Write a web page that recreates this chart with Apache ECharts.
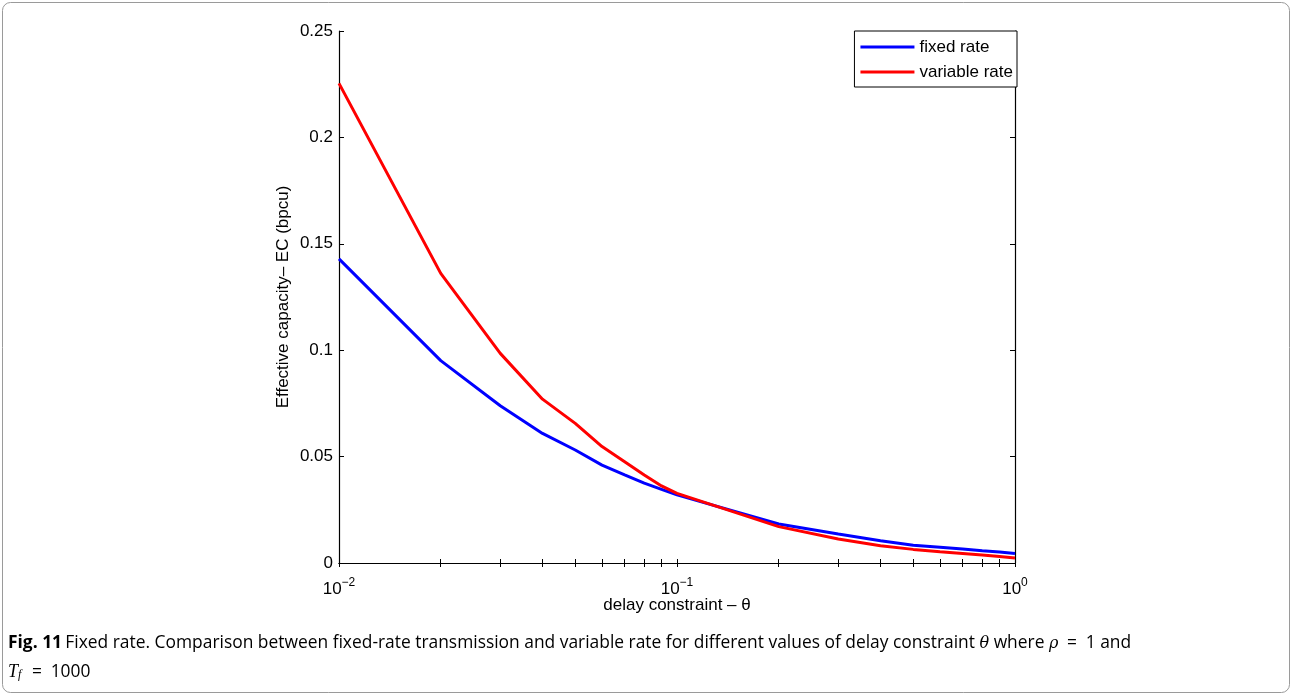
<!DOCTYPE html>
<html><head><meta charset="utf-8">
<script src="https://cdn.jsdelivr.net/npm/echarts@6/dist/echarts.min.js"></script>
<style>html,body{margin:0;padding:0;background:#fff}#c{width:1292px;height:695px}</style>
</head><body><div id="c"></div>
<script>
var theta = [0.01,0.02,0.03,0.04,0.05,0.06,0.07,0.08,0.09,0.1,0.2,0.3,0.4,0.5,0.6,0.7,0.8,0.9,1.0];
var fixedRate = [0.1429,0.0951,0.0739,0.0609,0.0531,0.0460,0.0414,0.0375,0.0346,0.0320,0.0183,0.0136,0.0105,0.0083,0.0074,0.0066,0.0058,0.0052,0.0045];
var variableRate = [0.2254,0.1361,0.0985,0.0770,0.0656,0.0547,0.0476,0.0414,0.0362,0.0327,0.0171,0.0113,0.0081,0.0064,0.0053,0.0045,0.0038,0.0031,0.0024];
var xMajorTicks = [0.01,0.1,1];
var xTickValues = [0.01,0.02,0.03,0.04,0.05,0.06,0.07,0.08,0.09,0.1,0.2,0.3,0.4,0.5,0.6,0.7,0.8,0.9,1];
var xTickExponents = {"0.01":"\u22122","0.1":"\u22121","1":"0"};
var seriesNames = ["fixed rate","variable rate"];

var chart = echarts.init(document.getElementById('c'), null, {renderer:'canvas'});
var AX = 'Liberation Sans, Arial, sans-serif';
var CF = 'Open Sans';
var CS = 17.4;
function pairs(ys){ return theta.map(function(x,i){return [x, ys[i]];}); }
var L = 339, R = 1015, T = 31, B = 563;
var option = {
  animation:false,
  backgroundColor:'#fff',
  grid:{left:L, right:1292-R, top:T, bottom:695-B},
  legend:{
    orient:'vertical', right:1292-1017, top:31,
    data:seriesNames,
    icon:'rect', itemWidth:54, itemHeight:3, itemGap:5,
    borderColor:'#000', borderWidth:1, backgroundColor:'#fff',
    padding:[6,4,5,6],
    textStyle:{fontFamily:AX, fontSize:17, color:'#000', lineHeight:20}
  },
  xAxis:[{
    type:'log', logBase:10, min:0.01, max:1, position:'bottom',
    axisLine:{lineStyle:{color:'#000', width:1.2}},
    axisTick:{inside:true, length:4, customValues:xTickValues, lineStyle:{color:'#000'}},
    splitLine:{show:false},
    axisLabel:{
      customValues:xMajorTicks, margin:10, color:'#000',
      formatter:function(v){ var k=String(+v.toPrecision(3)); return '{b|10}{s|'+(xTickExponents[k]||'')+'}'; },
      rich:{ b:{fontFamily:AX, fontSize:17, color:'#000', padding:[8,0,0,0]},
             s:{fontFamily:AX, fontSize:12, color:'#000', padding:[0,0,6,0]} }
    },
    name:'delay constraint \u2013 \u03b8', nameLocation:'middle', nameGap:34, nameMoveOverlap:false,
    nameTextStyle:{fontFamily:AX, fontSize:17, color:'#000'}
  },{
    type:'log', logBase:10, min:0.01, max:1, position:'top',
    axisLine:{lineStyle:{color:'#000', width:1.2}},
    axisTick:{inside:true, length:4, customValues:xTickValues, lineStyle:{color:'#000'}},
    axisLabel:{show:false}, splitLine:{show:false}
  }],
  yAxis:[{
    type:'value', min:0, max:0.25, interval:0.05, position:'left',
    axisLine:{show:true, lineStyle:{color:'#000', width:1.2}},
    axisTick:{show:true, inside:true, length:5, lineStyle:{color:'#000'}},
    splitLine:{show:false},
    axisLabel:{fontFamily:AX, fontSize:17, color:'#000', margin:6},
    name:'Effective capacity\u2013 EC (bpcu)', nameLocation:'middle', nameGap:47, nameMoveOverlap:false,
    nameTextStyle:{fontFamily:AX, fontSize:17, color:'#000'}
  },{
    type:'value', min:0, max:0.25, interval:0.05, position:'right',
    axisLine:{show:true, lineStyle:{color:'#000', width:1.2}},
    axisTick:{show:true, inside:true, length:5, lineStyle:{color:'#000'}},
    splitLine:{show:false}, axisLabel:{show:false}
  }],
  series:[
    {name:seriesNames[0], type:'line', data:pairs(fixedRate), showSymbol:false, symbol:'none',
     lineStyle:{color:'#0000ff', width:3}, itemStyle:{color:'#0000ff'}},
    {name:seriesNames[1], type:'line', data:pairs(variableRate), showSymbol:false, symbol:'none',
     lineStyle:{color:'#ff0000', width:3}, itemStyle:{color:'#ff0000'}}
  ],
  graphic:[
    {type:'rect', silent:true, z:-1, shape:{x:2.5, y:2.5, width:1287, height:690, r:8},
     style:{fill:null, stroke:'#9a9a9a', lineWidth:1}},
    {type:'text', left:8, top:635, silent:true,
     style:{text:'{b|Fig. 11} {t|Fixed rate. Comparison between fixed-rate transmission and variable rate for different values of delay constraint }{m|\u03b8}{t| where }{m|\u03c1}{t|\u2002=\u20021 and}',
       rich:{ b:{fontFamily:CF, fontWeight:'bold', fontSize:CS, fill:'#000'},
              t:{fontFamily:CF, fontSize:CS, fill:'#000'},
              m:{fontFamily:'DejaVu Serif', fontStyle:'italic', fontSize:16, fill:'#000'} }}},
    {type:'text', left:8, top:663, silent:true,
     style:{text:'{m|T}{sub|f}{t|\u2002=\u20021000}',
       rich:{ t:{fontFamily:CF, fontSize:CS, fill:'#000'},
              m:{fontFamily:'Liberation Serif', fontStyle:'italic', fontSize:18, fill:'#000'},
              sub:{fontFamily:'Liberation Serif', fontStyle:'italic', fontSize:12, fill:'#000', padding:[6,2,0,0]} }}}
  ]
};
chart.setOption(option);
</script></body></html>
